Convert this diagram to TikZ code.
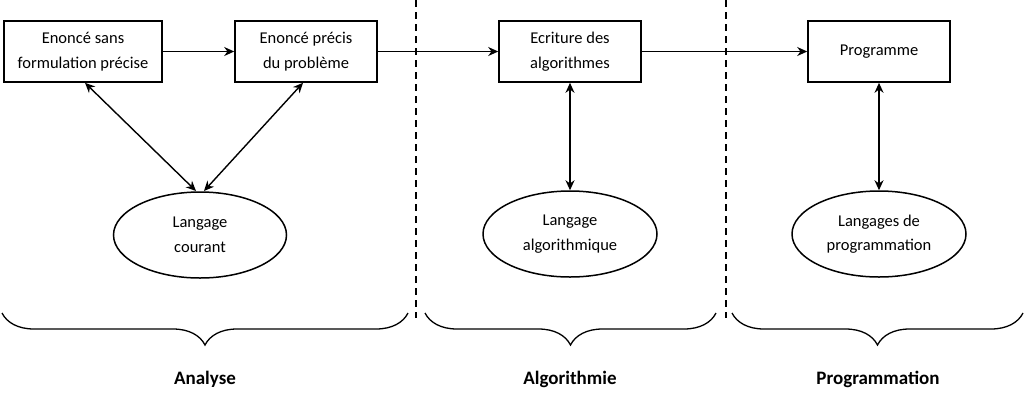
\documentclass[tikz,border=0pt]{standalone}
\usepackage{fontspec}
\setmainfont{Carlito}
\usetikzlibrary{arrows.meta,shapes.geometric,decorations.pathreplacing}
\begin{document}
\begin{tikzpicture}[x=1pt,y=-1pt,
  every node/.style={inner sep=0pt,align=center,font=\fontsize{16.5}{24.5}\selectfont},
  boxnode/.style={draw,line width=1.6pt,rectangle},
  ellnode/.style={draw,line width=1.5pt,ellipse},
  conn/.style={line width=1.5pt,-{Stealth[length=10pt,width=9pt]}},
  biconn/.style={line width=1.4pt,{Stealth[length=10pt,width=9pt]}-{Stealth[length=10pt,width=9pt]}},
  sepline/.style={line width=1.2pt,dash pattern=on 7pt off 5pt},
  bracestyle/.style={line width=1.3pt,decorate,decoration={brace,mirror,amplitude=32pt}},
  phase/.style={font=\fontsize{19}{22}\selectfont\bfseries}
]
\useasboundingbox (0,0) rectangle (1024,408);
\fill[white] (0,0) rectangle (1024,408);

% boxes
\node[boxnode,minimum width=158pt,minimum height=61pt] (b1) at (83,51.5) {Enoncé sans\\formulation précise};
\node[boxnode,minimum width=142pt,minimum height=61pt] (b2) at (306,51.5) {Enoncé précis\\du problème};
\node[boxnode,minimum width=142pt,minimum height=61pt] (b3) at (570,51.5) {Ecriture des\\algorithmes};
\node[boxnode,minimum width=142pt,minimum height=61pt] (b4) at (879,51.5) {Programme};

% ellipses
\node[ellnode,minimum width=173pt,minimum height=86pt] (e1) at (200,235) {Langage\\courant};
\node[ellnode,minimum width=174pt,minimum height=86pt] (e2) at (570,234) {Langage\\algorithmique};
\node[ellnode,minimum width=174pt,minimum height=86pt] (e3) at (879,234) {Langages de\\programmation};

% horizontal connectors
\draw[conn] (b1.east) -- (b2.west);
\draw[conn] (b2.east) -- (b3.west);
\draw[conn] (b3.east) -- (b4.west);

% vertical / diagonal connectors
\coordinate (t1) at (196,191);
\coordinate (t2) at (204,191);
\draw[biconn] (b1.south -| 85,0) -- (t1);
\draw[biconn] (b2.south -| 303,0) -- (t2);
\draw[biconn] (b3.south) -- (e2.north);
\draw[biconn] (b4.south) -- (e3.north);

% separators
\coordinate (s1a) at (416,0);
\coordinate (s1b) at (416,318);
\coordinate (s2a) at (726,0);
\coordinate (s2b) at (726,318);
\draw[sepline] (s1a) -- (s1b);
\draw[sepline] (s2a) -- (s2b);

% braces
\coordinate (br1a) at (2,313);
\coordinate (br1b) at (408,313);
\coordinate (br2a) at (425,313);
\coordinate (br2b) at (716,313);
\coordinate (br3a) at (732,313);
\coordinate (br3b) at (1023,313);
\draw[bracestyle] (br1a) -- (br1b);
\draw[bracestyle] (br2a) -- (br2b);
\draw[bracestyle] (br3a) -- (br3b);

% phase labels
\node[phase] (l1) at (205,379) {Analyse};
\node[phase] (l2) at (570,379) {Algorithmie};
\node[phase] (l3) at (878,379) {Programmation};
\end{tikzpicture}
\end{document}
